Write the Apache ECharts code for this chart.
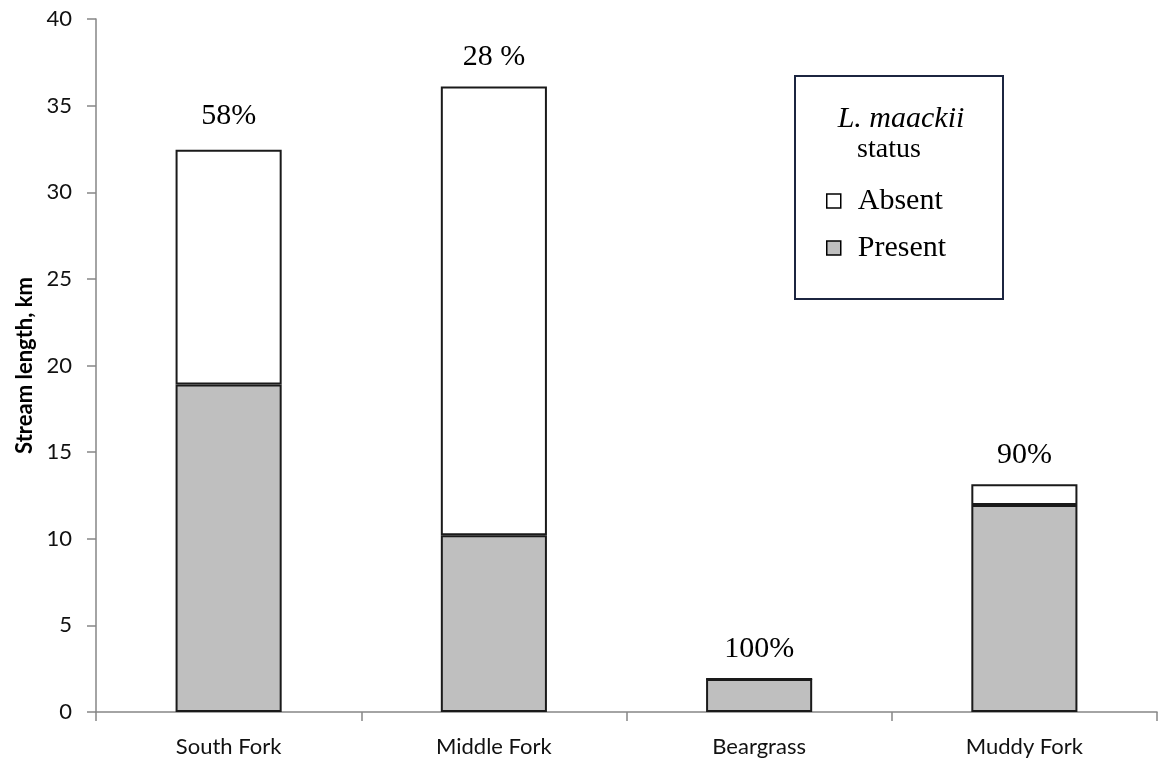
<!DOCTYPE html>
<html>
<head>
<meta charset="utf-8">
<script src="https://cdn.jsdelivr.net/npm/echarts@6/dist/echarts.min.js"></script>
<style>
  html, body { margin: 0; padding: 0; background: #fff; }
  #chart { width: 1160px; height: 763px; }
</style>
</head>
<body>
<div id="chart"></div>
<script>
// Stream length (km) with and without L. maackii, by stream
var categories = ['South Fork', 'Middle Fork', 'Beargrass', 'Muddy Fork'];
var presentKm = [18.9, 10.2, 1.9, 11.95];
var absentKm = [13.55, 25.9, 0, 1.2];
var pctLabels = ['58%', '28 %', '100%', '90%'];
var yTicks = { min: 0, max: 40, interval: 5 };

var serif = '"Liberation Serif", "Times New Roman", serif';
var sans = 'Lato, "Open Sans", sans-serif';
var axisGray = '#868686';

// the first percentage sits a little higher above its bar
var absentData = absentKm.map(function (v, i) {
  return i === 0 ? { value: v, label: { distance: 19 } } : v;
});

var chart = echarts.init(document.getElementById('chart'));

chart.setOption({
  animation: false,
  backgroundColor: '#ffffff',
  grid: { left: 96, right: 3, top: 19, bottom: 51, containLabel: false },
  xAxis: {
    type: 'category',
    data: categories,
    axisLine: { lineStyle: { color: axisGray, width: 1.5 } },
    axisTick: { show: true, length: 9, lineStyle: { color: axisGray, width: 1.5 } },
    axisLabel: { color: '#111', fontFamily: sans, fontSize: 22, margin: 24 }
  },
  yAxis: {
    type: 'value',
    min: yTicks.min,
    max: yTicks.max,
    interval: yTicks.interval,
    name: 'Stream length, km',
    nameLocation: 'middle',
    nameGap: 60,
    nameTextStyle: { fontFamily: sans, fontWeight: 'bold', fontSize: 22, color: '#000' },
    axisLine: { show: true, lineStyle: { color: axisGray, width: 1.5 } },
    axisTick: { show: true, length: 9, lineStyle: { color: axisGray, width: 1.5 } },
    axisLabel: { color: '#111', fontFamily: sans, fontSize: 22, margin: 24 },
    splitLine: { show: false }
  },
  legend: {
    orient: 'vertical',
    left: 821,
    top: 181,
    itemWidth: 14,
    itemHeight: 14,
    itemGap: 17,
    icon: 'rect',
    textStyle: { fontFamily: serif, fontSize: 30, lineHeight: 30, color: '#000', padding: [0, 0, 0, 12] },
    data: [
      { name: 'Absent', itemStyle: { color: '#ffffff', borderColor: '#000', borderWidth: 1.5 } },
      { name: 'Present', itemStyle: { color: '#bfbfbf', borderColor: '#000', borderWidth: 1.5 } }
    ]
  },
  graphic: [
    {
      type: 'rect',
      shape: { x: 795, y: 76, width: 208, height: 223 },
      style: { fill: 'transparent', stroke: '#1c2540', lineWidth: 2 },
      z: 1
    },
    {
      type: 'text',
      x: 901, y: 119,
      style: { text: 'L. maackii', fontFamily: serif, fontStyle: 'italic', fontSize: 30, fill: '#000', align: 'center', verticalAlign: 'middle' }
    },
    {
      type: 'text',
      x: 889, y: 150,
      style: { text: 'status', fontFamily: serif, fontSize: 28, fill: '#000', align: 'center', verticalAlign: 'middle' }
    }
  ],
  series: [
    {
      name: 'Present',
      type: 'bar',
      stack: 'len',
      barWidth: '40%',
      data: presentKm,
      itemStyle: { color: '#bfbfbf', borderColor: '#1a1a1a', borderWidth: 2 }
    },
    {
      name: 'Absent',
      type: 'bar',
      stack: 'len',
      barWidth: '40%',
      data: absentData,
      itemStyle: { color: '#ffffff', borderColor: '#1a1a1a', borderWidth: 2 },
      label: {
        show: true,
        position: 'top',
        distance: 14,
        fontFamily: serif,
        fontSize: 30,
        color: '#000',
        formatter: function (p) { return pctLabels[p.dataIndex]; }
      }
    }
  ]
});
</script>
</body>
</html>
